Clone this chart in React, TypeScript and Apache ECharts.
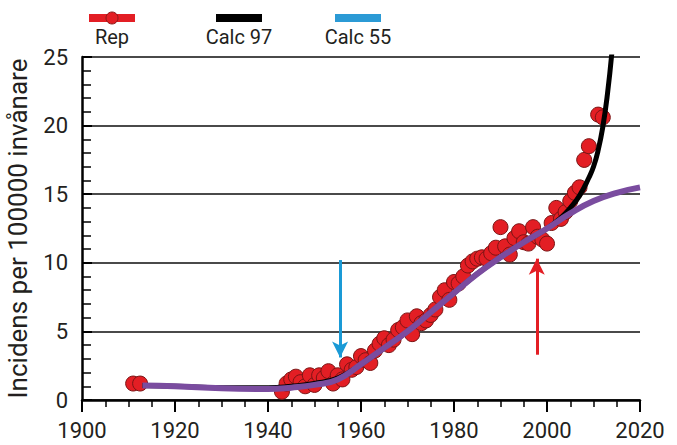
import React, { useEffect, useRef } from "react";
import * as echarts from "echarts";

// Reported incidence (year, value)
const repYears = [1911, 1912.5,
  1943, 1944, 1945, 1946, 1947, 1948, 1949, 1950, 1951, 1952, 1953, 1954, 1955, 1956, 1957, 1958, 1959,
  1960, 1961, 1962, 1963, 1964, 1965, 1966, 1967, 1968, 1969, 1970, 1971, 1972, 1973, 1974, 1975, 1976,
  1977, 1978, 1979, 1980, 1981, 1982, 1983, 1984, 1985, 1986, 1987, 1988, 1989, 1990, 1991, 1992, 1993,
  1994, 1995, 1996, 1997, 1998, 1999, 2000, 2001, 2002, 2003, 2004, 2005, 2006, 2007, 2008, 2009, 2011, 2012];
const repValues = [1.2, 1.2,
  0.6, 1.2, 1.5, 1.7, 1.3, 1.0, 1.8, 1.1, 1.8, 1.6, 2.1, 1.2, 1.8, 1.5, 2.6, 2.2, 2.4,
  3.2, 2.9, 2.7, 3.6, 4.1, 4.5, 4.0, 4.4, 5.1, 5.3, 5.8, 4.8, 6.1, 5.6, 5.8, 6.2, 6.6,
  7.5, 8.0, 7.3, 8.6, 8.5, 9.0, 9.8, 10.1, 10.3, 10.4, 10.3, 10.7, 11.1, 12.6, 11.2, 10.6, 11.8,
  12.3, 11.5, 11.4, 12.6, 11.9, 11.7, 11.4, 12.9, 14.0, 13.2, 13.7, 14.5, 15.1, 15.5, 17.5, 18.5, 20.8, 20.6];

// Calc 55 model curve
const calc55Years = [1913, 1920, 1930, 1940, 1945, 1950, 1955, 1960, 1965, 1970, 1975, 1980, 1985, 1990, 1995, 2000, 2005, 2010, 2015, 2020];
const calc55Values = [1.05, 1.0, 0.85, 0.8, 0.9, 1.1, 1.5, 2.6, 3.8, 5.0, 6.4, 7.8, 9.2, 10.4, 11.5, 12.5, 13.6, 14.5, 15.1, 15.5];

// Calc 97 model curve
const calc97Years = [1913, 1920, 1930, 1940, 1945, 1950, 1955, 1960, 1965, 1970, 1975, 1980, 1985, 1990, 1995, 2000, 2003, 2005, 2007, 2009, 2010, 2011, 2012, 2013, 2014];
const calc97Values = [1.05, 1.0, 0.9, 0.9, 1.0, 1.2, 1.6, 2.6, 3.8, 5.0, 6.4, 7.8, 9.2, 10.4, 11.5, 12.5, 13.3, 14.0, 14.9, 16.2, 17.0, 18.2, 19.9, 22.3, 25.5];

// Arrows: [year, fromValue, toValue]
const blueArrow = [1955.5, 10.2, 3.1];
const redArrow = [1997.8, 3.3, 10.3];

const xTicks = { min: 1900, max: 2020, interval: 20 };
const yTicks = { min: 0, max: 25, interval: 5 };

const legendItems = ["Rep", "Calc 97", "Calc 55"];

const FONT = "Roboto";
const TXT = "#231f20";

export default function App() {
  const ref = useRef<HTMLDivElement>(null);
  useEffect(() => {
    if (!ref.current) return;
    const chart = echarts.init(ref.current, null, { renderer: "svg" });
    const legendCenters = [112, 239, 358];
    const legendColors = ["#e31e24", "#000000", "#2b9ad5"];
    const graphic: any[] = [];
    legendItems.forEach((name, i) => {
      const cx = legendCenters[i];
      graphic.push({
        type: "rect",
        shape: { x: cx - 23, y: 14, width: 46, height: 8 },
        style: { fill: legendColors[i] },
      });
      if (i === 0) {
        graphic.push({
          type: "circle",
          shape: { cx: cx, cy: 18, r: 6 },
          style: { fill: "#e31e24", stroke: "#8b1a1a", lineWidth: 1 },
        });
      }
      graphic.push({
        type: "text",
        x: cx,
        y: 37,
        style: {
          text: name,
          fill: TXT,
          font: `20px ${FONT}`,
          align: "center",
          verticalAlign: "middle",
        },
      });
    });

    chart.setOption({
      animation: false,
      backgroundColor: "#ffffff",
      graphic,
      grid: { left: 82, right: 37, top: 57, bottom: 45, containLabel: false, outerBoundsMode: "none" },
      xAxis: {
        type: "value",
        min: xTicks.min,
        max: xTicks.max,
        interval: xTicks.interval,
        axisLine: { show: true, onZero: false, lineStyle: { color: "#000", width: 2.5 } },
        axisTick: { show: true, inside: false, length: 12, lineStyle: { color: "#000", width: 2 } },
        minorTick: { show: true, splitNumber: 4, length: 7, lineStyle: { color: "#000", width: 1.5 } },
        axisLabel: { margin: 19, fontSize: 22, fontFamily: FONT, color: TXT, formatter: (v: number) => String(v) },
        splitLine: { show: false },
      },
      yAxis: {
        type: "value",
        min: yTicks.min,
        max: yTicks.max,
        interval: yTicks.interval,
        name: "Incidens per 100000 invånare",
        nameLocation: "middle",
        nameGap: 51,
        nameTextStyle: { fontSize: 26, fontFamily: FONT, color: TXT },
        axisLine: { show: true, lineStyle: { color: "#000", width: 2.5 } },
        axisTick: { show: true, inside: true, length: 10, lineStyle: { color: "#000", width: 2 } },
        minorTick: { show: true, splitNumber: 5, length: 9, lineStyle: { color: "#000", width: 1.5 } },
        axisLabel: { margin: 14, fontSize: 22, fontFamily: FONT, color: TXT },
        splitLine: { show: true, lineStyle: { color: "#4a4a4a", width: 2 } },
      },
      series: [
        {
          name: "Rep",
          type: "scatter",
          data: repYears.map((y, i) => [y, repValues[i]]),
          symbol: "circle",
          symbolSize: 15,
          itemStyle: { color: "#e31e24", borderColor: "#7a1414", borderWidth: 1, opacity: 1 },
          z: 2,
          markLine: {
            silent: true,
            symbol: ["none", "arrow"],
            symbolSize: [12, 16],
            label: { show: false },
            lineStyle: { type: "solid", width: 3 },
            data: [
              [
                { coord: [blueArrow[0], blueArrow[1]], lineStyle: { color: "#1a9ad6" }, itemStyle: { color: "#1a9ad6" } },
                { coord: [blueArrow[0], blueArrow[2]] },
              ],
              [
                { coord: [redArrow[0], redArrow[1]], lineStyle: { color: "#e31e24" }, itemStyle: { color: "#e31e24" } },
                { coord: [redArrow[0], redArrow[2]] },
              ],
            ],
          },
        },
        {
          name: "Calc 97",
          type: "line",
          smooth: true,
          showSymbol: false,
          data: calc97Years.map((y, i) => [y, calc97Values[i]]),
          lineStyle: { color: "#000", width: 5 },
          itemStyle: { color: "#000" },
          clip: true,
          z: 3,
        },
        {
          name: "Calc 55",
          type: "line",
          smooth: true,
          showSymbol: false,
          data: calc55Years.map((y, i) => [y, calc55Values[i]]),
          lineStyle: { color: "#7a4c9f", width: 6 },
          itemStyle: { color: "#7a4c9f" },
          clip: true,
          z: 4,
        },
      ],
    });
    return () => chart.dispose();
  }, []);
  return (
    <div
      ref={ref}
      style={{ position: "fixed", left: 0, top: 0, width: 677, height: 445 }}
    />
  );
}
